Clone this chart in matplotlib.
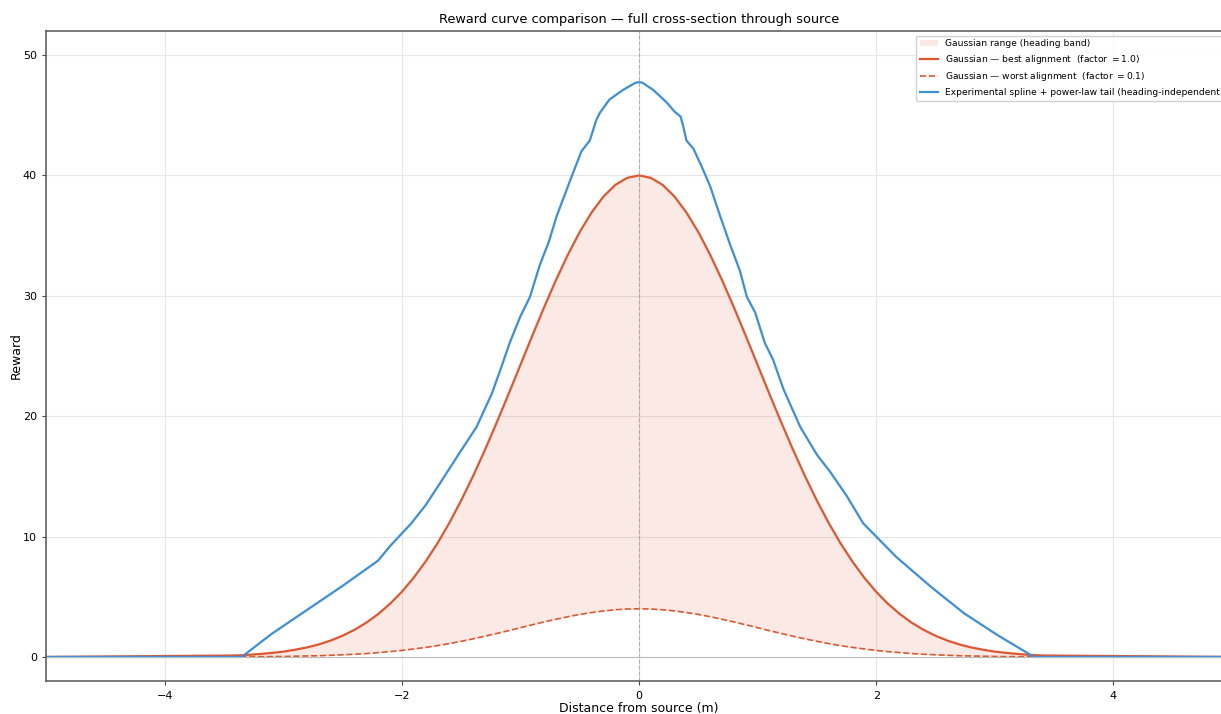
import matplotlib
matplotlib.use("Agg")
import matplotlib.pyplot as plt
import numpy as np

# Gaussian reward half-profile (symmetric about the source), x >= 0 in metres
half_x = [0.0, 0.1, 0.2, 0.3, 0.4, 0.5, 0.6, 0.7, 0.8, 0.9, 1.0, 1.1, 1.2, 1.3, 1.4, 1.5, 1.6, 1.7,
          1.8, 1.9, 2.0, 2.1, 2.2, 2.3, 2.4, 2.5, 2.6, 2.7, 2.8, 2.9, 3.0, 3.1, 3.2, 3.3, 3.4, 5.0]
half_best = [40.0, 39.80, 39.21, 38.24, 36.92, 35.30, 33.41, 31.31, 29.05, 26.68, 24.26, 21.84, 19.47,
             17.18, 15.01, 12.99, 11.12, 9.43, 7.92, 6.58, 5.41, 4.41, 3.56, 2.84, 2.25, 1.76, 1.36,
             1.04, 0.79, 0.60, 0.44, 0.33, 0.24, 0.17, 0.12, 0.0]
half_worst = [4.0, 3.98, 3.92, 3.82, 3.69, 3.53, 3.34, 3.13, 2.91, 2.67, 2.43, 2.18, 1.95, 1.72, 1.50,
              1.30, 1.11, 0.94, 0.79, 0.66, 0.54, 0.44, 0.36, 0.28, 0.22, 0.18, 0.14, 0.10, 0.08, 0.06,
              0.04, 0.03, 0.02, 0.02, 0.01, 0.0]

# experimental spline + power-law tail
exp_x = [-5.0, -3.35, -3.1, -2.8, -2.5, -2.2, -2.1, -1.92, -1.8, -1.68, -1.51, -1.37, -1.24, -1.16,
         -1.09, -1.0, -0.92, -0.835, -0.76, -0.695, -0.58, -0.486, -0.415, -0.36, -0.33, -0.25, -0.135,
         -0.03, 0.0, 0.03, 0.12, 0.23, 0.30, 0.35, 0.37, 0.40, 0.46, 0.53, 0.60, 0.685, 0.77, 0.85, 0.91,
         0.98, 1.06, 1.13, 1.22, 1.36, 1.5, 1.61, 1.75, 1.89, 2.0, 2.17, 2.46, 2.74, 3.02, 3.33, 5.0]
exp_y = [0.0, 0.0, 1.9, 3.9, 5.9, 8.0, 9.2, 11.1, 12.6, 14.4, 17.0, 19.1, 21.9, 24.1,
         26.1, 28.3, 29.9, 32.6, 34.5, 36.6, 39.6, 42.0, 42.9, 44.6, 45.2, 46.3, 47.1,
         47.7, 47.75, 47.7, 47.1, 46.1, 45.3, 44.9, 44.2, 42.9, 42.2, 40.7, 39.1, 36.6, 34.2, 32.1, 29.9,
         28.6, 26.1, 24.7, 22.2, 19.1, 16.8, 15.4, 13.4, 11.1, 10.0, 8.3, 5.84, 3.63, 1.83, 0.0, 0.0]

# mirror the half-profile to get the full cross-section
gauss_x = np.concatenate([-np.array(half_x[:0:-1]), half_x])
gauss_best = np.concatenate([half_best[:0:-1], half_best])
gauss_worst = np.concatenate([half_worst[:0:-1], half_worst])

c_gauss = '#e0572f'
c_exp = '#3a8fdf'

fig = plt.figure(figsize=(12.21, 7.14), dpi=100)
ax = fig.add_axes([0.0377, 0.0462, 0.9713, 0.9104])

ax.fill_between(gauss_x, gauss_worst, gauss_best, color=c_gauss, alpha=0.13, linewidth=0,
                label='Gaussian range (heading band)')
ax.plot(gauss_x, gauss_best, color=c_gauss, lw=1.6,
        label='Gaussian — best alignment  (factor $= 1.0$)')
ax.plot(gauss_x, gauss_worst, color=c_gauss, lw=1.2, ls='--',
        label='Gaussian — worst alignment  (factor $= 0.1$)')
ax.plot(exp_x, exp_y, color=c_exp, lw=1.6,
        label='Experimental spline + power-law tail (heading-independent)')

ax.axvline(0, color='#999999', lw=0.8, ls='--', alpha=0.7)
ax.axhline(0, color='#bbbbbb', lw=0.8)

ax.set_xlim(-5, 5)
ax.set_ylim(-2, 52)
ax.set_xticks([-4, -2, 0, 2, 4])
ax.set_yticks([0, 10, 20, 30, 40, 50])
ax.grid(True, color='#e6e6e6', lw=0.8)
ax.set_axisbelow(True)
ax.tick_params(labelsize=8, color='#444444', length=3)
ax.tick_params(axis='x', pad=4.5)
for s in ax.spines.values():
    s.set_color('#555555')
    s.set_linewidth(1.1)

ax.set_title('Reward curve comparison — full cross-section through source', fontsize=9.3)
ax.set_xlabel('Distance from source (m)', fontsize=9, labelpad=0.5)
ax.set_ylabel('Reward', fontsize=9, labelpad=0)
ax.legend(loc='upper right', fontsize=6.6, framealpha=0.9, edgecolor='#cccccc')

fig.savefig('out.png', dpi=100)
